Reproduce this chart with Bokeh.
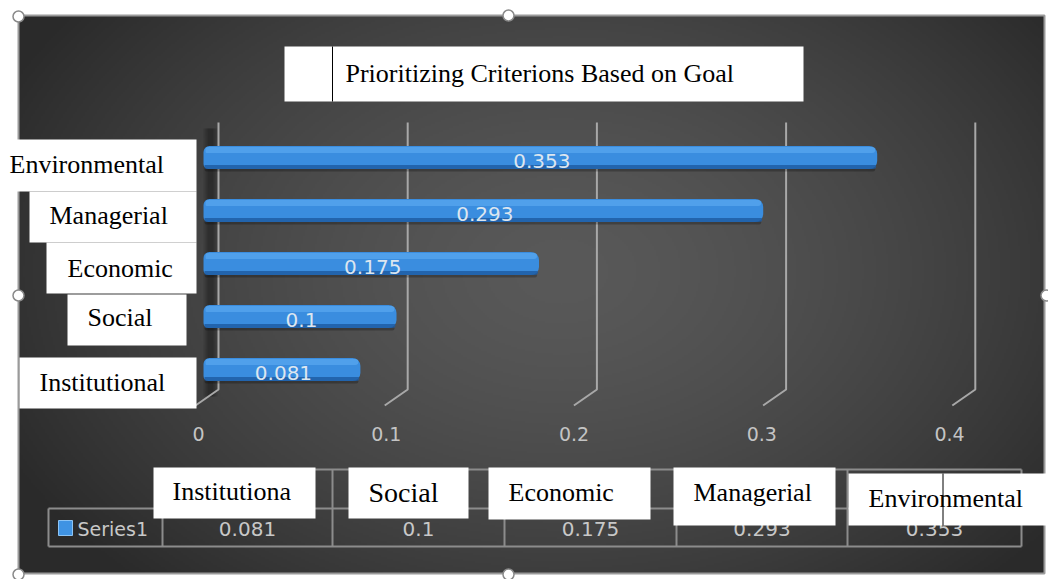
import numpy as np
from bokeh.plotting import figure
from bokeh.models import Range1d, ColumnDataSource
from bokeh.core.properties import value
from bokeh.embed import file_html
from bokeh.resources import INLINE

# ---------------- data ----------------
title = "Prioritizing Criterions Based on Goal"
categories = ["Institutional", "Social", "Economic", "Managerial", "Environmental"]
values = [0.081, 0.1, 0.175, 0.293, 0.353]
x_ticks = [0, 0.1, 0.2, 0.3, 0.4]
x_tick_labels = ["0", "0.1", "0.2", "0.3", "0.4"]
series_name = "Series1"
table_headers = ["Institutiona", "Social", "Economic", "Managerial", "Environmental"]
table_values = ["0.081", "0.1", "0.175", "0.293", "0.353"]

# ---------------- layout (pixels) ----------------
W, H = 1048, 579
X0, KX = 206.0, 1900.0   # pixel of value 0, pixels per unit value
Y0, KY = 369.0, 53.0     # pixel (from top) of first category, pixels per category step


def dx(px):
    return (px - X0) / KX


def dy(py):
    return (Y0 - py) / KY


p = figure(width=W, height=H, x_range=Range1d(dx(0), dx(W)), y_range=Range1d(dy(H), dy(0)),
           output_backend="svg", toolbar_location=None, min_border=0,
           x_axis_location=None, y_axis_location=None,
           background_fill_color="white", border_fill_color="white", outline_line_color=None)
p.grid.visible = False

# ---- background radial gradient ----
L, R, T, B = 18, 1044, 15, 573
step = 2
ys, xs = np.mgrid[T:B:step, L:R:step].astype(float)
r = np.sqrt(((xs - 560) / 620) ** 2 + ((ys - 270) / 430) ** 2)
t = np.clip(r, 0, 1) ** 1.5
g = (0x59 * (1 - t) + 0x2a * t).astype(np.uint8)
h_, w_ = g.shape
img = np.empty((h_, w_), dtype=np.uint32)
v = img.view(dtype=np.uint8).reshape((h_, w_, 4))
v[..., 0] = g
v[..., 1] = g
v[..., 2] = g
v[..., 3] = 255
img = img[::-1]
p.image_rgba(image=[img], x=dx(L), y=dy(B), dw=dx(R) - dx(L), dh=dy(T) - dy(B))
p.quad(left=dx(L), right=dx(R), top=dy(T), bottom=dy(B), fill_color=None,
       line_color="#9a9a9a", line_width=2)

# ---- left wall soft shadow ----
for (a, b, al) in [(203, 217, 0.10), (205, 215, 0.12), (207, 213, 0.12)]:
    p.quad(left=dx(a), right=dx(b), top=dy(128), bottom=dy(396), fill_color="black",
           fill_alpha=al, line_color=None)

# ---- 3D gridlines (back wall + floor diagonal) ----
gx = [218 + 1892 * tv for tv in x_ticks]
p.multi_line(xs=[[dx(x), dx(x), dx(x - 23)] for x in gx],
             ys=[[dy(122), dy(389), dy(405)] for _ in gx],
             line_color="#a8a8a8", line_width=2)

# ---- x tick labels ----
p.text(x=[dx(198 + 1877.5 * tv) for tv in x_ticks], y=[dy(433)] * len(x_ticks), text=x_tick_labels,
       text_font=value("DejaVu Sans"), text_font_size="19px", text_color="#c4c4c4",
       text_align="center", text_baseline="middle")

# ---- bars ----
idx = list(range(len(categories)))
bh = 23.0 / KY
src = ColumnDataSource(dict(y=idx, right=values, mid=[vv / 2 for vv in values],
                            ly=[i - 3 / KY for i in idx],
                            lab=[str(vv) for vv in values]))
p.hbar(y=[i - 12 / KY for i in idx], left=dx(204), right=[vv - 2 / KX for vv in values],
       height=4 / KY, fill_color="black", fill_alpha=0.25, line_color=None,
       border_radius=3)
p.hbar(y="y", left=dx(203), right="right", height=bh, source=src, fill_color="#3a8ddf",
       line_color=None, border_radius=(6, 8, 8, 5))
p.hbar(y=[i + 7.5 / KY for i in idx], left=dx(205), right=[vv - 2 / KX for vv in values],
       height=6 / KY, fill_color="#5aa8f0", fill_alpha=0.7, line_color=None,
       border_radius=(4, 5, 5, 2))
p.hbar(y=[i - 9.5 / KY for i in idx], left=dx(204), right=[vv - 1 / KX for vv in values],
       height=4 / KY, fill_color="#1d5aa0", fill_alpha=0.8, line_color=None,
       border_radius=(0, 3, 6, 4))
p.text(x="mid", y="ly", text="lab", source=src,
       text_font=value("DejaVu Sans"), text_font_size="20px", text_color="#dce6f0",
       text_align="center", text_baseline="middle")

# ---- category label boxes (left) ----
cat_box = [(19, 196, 357, 408), (67, 186, 294, 345), (46, 196, 242, 293),
           (29, 196, 191, 242), (0, 196, 139, 191)]
cat_text_x = [39, 87, 67, 49, 9]
cat_text_y = [382, 317, 268, 215, 164]
p.quad(left=[dx(b[0]) for b in cat_box], right=[dx(b[1]) for b in cat_box],
       top=[dy(b[2]) for b in cat_box], bottom=[dy(b[3]) for b in cat_box],
       fill_color="white", line_color=None)
p.text(x=[dx(x) for x in cat_text_x], y=[dy(y) for y in cat_text_y], text=categories,
       text_font=value("Liberation Serif"), text_font_size="26px", text_color="black",
       text_align="left", text_baseline="middle")

# ---- title ----
p.quad(left=dx(284), right=dx(803), top=dy(46), bottom=dy(101), fill_color="white", line_color=None)
p.segment(x0=dx(332), x1=dx(332), y0=dy(46), y1=dy(101), line_color="black", line_width=1)
p.text(x=[dx(345)], y=[dy(73)], text=[title], text_font=value("Liberation Serif"),
       text_font_size="26px", text_color="black", text_align="left", text_baseline="middle")

# ---- data table ----
col_edges = [48, 162, 332, 504, 676, 847, 1021]
row_top, row_mid, row_bot = 469, 508, 546
tl_xs = [[dx(162), dx(1021)], [dx(48), dx(1021)], [dx(48), dx(1021)], [dx(48), dx(48)]]
tl_ys = [[dy(row_top)] * 2, [dy(row_mid)] * 2, [dy(row_bot)] * 2, [dy(row_mid), dy(row_bot)]]
for x in col_edges[1:]:
    tl_xs.append([dx(x), dx(x)])
    tl_ys.append([dy(row_top), dy(row_bot)])
p.multi_line(xs=tl_xs, ys=tl_ys, line_color="#8c8c8c", line_width=2)

centers = [(col_edges[i + 1] + col_edges[i + 2]) / 2 for i in range(len(table_values))]
p.text(x=[dx(c) for c in centers], y=[dy(528)] * len(centers), text=table_values,
       text_font=value("DejaVu Sans"), text_font_size="20px", text_color="#c8c8c8",
       text_align="center", text_baseline="middle")
p.quad(left=dx(58), right=dx(72), top=dy(520), bottom=dy(535), fill_color="#3f93e3",
       line_color="#8cc4f5", line_width=1)
p.text(x=[dx(77)], y=[dy(528)], text=[series_name], text_font=value("DejaVu Sans"),
       text_font_size="19px", text_color="#c8c8c8", text_align="left", text_baseline="middle")

hdr_box = [(153, 315, 467, 518), (348, 468, 467, 518), (488, 650, 467, 519),
           (673, 835, 467, 525), (848, 1048, 473, 525)]
hdr_text_x = [172, 368, 508, 693, 868]
hdr_text_y = [491, 492, 492, 492, 498]
hdr_size = ["26px", "28px", "26px", "26px", "26px"]
hsrc = ColumnDataSource(dict(x=[dx(x) for x in hdr_text_x], y=[dy(y) for y in hdr_text_y],
                             text=table_headers, size=hdr_size))
p.quad(left=[dx(b[0]) for b in hdr_box], right=[dx(b[1]) for b in hdr_box],
       top=[dy(b[2]) for b in hdr_box], bottom=[dy(b[3]) for b in hdr_box],
       fill_color="white", line_color=None)
p.text(x="x", y="y", text="text", source=hsrc,
       text_font=value("Liberation Serif"), text_font_size="size", text_color="black",
       text_align="left", text_baseline="middle")
p.segment(x0=dx(942.5), x1=dx(942.5), y0=dy(473), y1=dy(525), line_color="black", line_width=1)

# ---- selection handles ----
hx = [18, 508, 18, 18, 508, 1046]
hy = [16, 15, 295, 574, 574, 295]
p.scatter(x=[dx(x) for x in hx], y=[dy(y) for y in hy], marker="circle", size=11,
          fill_color="white", line_color="#8a8a8a", line_width=1.5)

open("out.html", "w").write(file_html(p, INLINE))
